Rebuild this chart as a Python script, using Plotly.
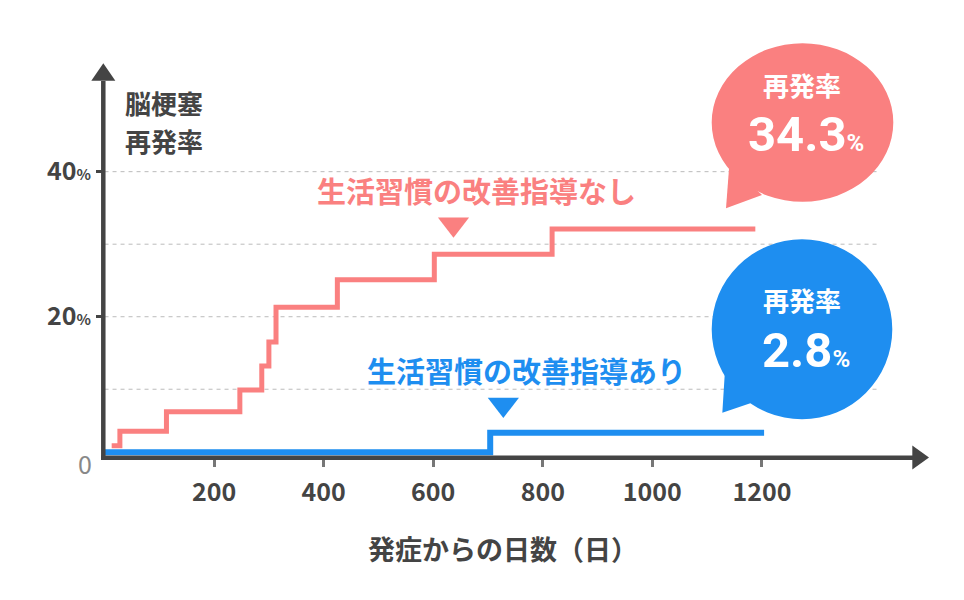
import plotly.graph_objects as go

# 生活習慣の改善指導なし（発症からの日数, 再発率 %）
days_without = [13, 28, 113, 247, 287, 300, 313, 425, 602, 817, 1188]
rate_without = [2.2, 4.2, 6.9, 9.9, 13.2, 16.5, 21.3, 25.1, 28.6, 32.1, 32.1]

# 生活習慣の改善指導あり
days_with = [0, 704, 1204]
rate_with = [1.3, 4.0, 4.0]

x_ticks = [200, 400, 600, 800, 1000, 1200]
y_ticks = [20, 40]
y_grid = [10, 20, 30, 40]

label_without = "生活習慣の改善指導なし"
label_with = "生活習慣の改善指導あり"
final_without = "34.3"
final_with = "2.8"

RED = "#FA8080"
BLUE = "#1E8EF0"
DARK = "#444444"
FONT = "Noto Sans CJK JP"

# the page body adds an 8px margin, so screen positions are shifted by OFF
OFF = 8
W, H = 964, 600
# plot area in screen pixels
L, R, T, B = 104, 912, 81, 458


def px(x):
    return (x - L) / (R - L)


def py(y):
    return (B - y) / (B - T)


fig = go.Figure()

fig.add_trace(go.Scatter(x=days_without, y=rate_without, mode="lines",
                         line=dict(color=RED, width=5, shape="hv"),
                         name=label_without, hoverinfo="skip"))
fig.add_trace(go.Scatter(x=days_with, y=rate_with, mode="lines",
                         line=dict(color=BLUE, width=6, shape="hv"),
                         name=label_with, hoverinfo="skip"))

# pointer triangles under the labels
fig.add_trace(go.Scatter(x=[637], y=[32.75], mode="markers",
                         marker=dict(symbol="triangle-down", size=27, color=RED),
                         hoverinfo="skip"))
fig.add_trace(go.Scatter(x=[728], y=[7.9], mode="markers",
                         marker=dict(symbol="triangle-down", size=27, color=BLUE),
                         hoverinfo="skip"))

shapes = []
for g in y_grid:
    shapes.append(dict(type="line", xref="x", yref="y", x0=0, x1=1410, y0=g, y1=g,
                       line=dict(color="#BBBBBB", width=1, dash="4px,4px"), layer="below"))

# axes with arrow heads
shapes += [
    dict(type="line", xref="paper", yref="paper", x0=px(103.3), x1=px(103.3),
         y0=py(460), y1=py(81), line=dict(color=DARK, width=4.5)),
    dict(type="line", xref="paper", yref="paper", x0=px(101), x1=px(913),
         y0=py(457.7), y1=py(457.7), line=dict(color=DARK, width=4.5)),
    dict(type="path", xref="paper", yref="paper", fillcolor=DARK, line=dict(width=0),
         path=f"M{px(91.3)},{py(80.7)} L{px(115.3)},{py(80.7)} L{px(103.3)},{py(63.3)} Z"),
    dict(type="path", xref="paper", yref="paper", fillcolor=DARK, line=dict(width=0),
         path=f"M{px(912.3)},{py(445.5)} L{px(912.3)},{py(469.5)} L{px(929)},{py(457.5)} Z"),
]

# speech bubbles
shapes += [
    dict(type="circle", xref="paper", yref="paper", fillcolor=RED, line=dict(width=0),
         x0=px(711.7), x1=px(893.3), y0=py(201.7), y1=py(43.3)),
    dict(type="path", xref="paper", yref="paper", fillcolor=RED, line=dict(width=0),
         path=f"M{px(729.3)},{py(165)} L{px(726)},{py(208.3)} L{px(762)},{py(195)} Z"),
    dict(type="circle", xref="paper", yref="paper", fillcolor=BLUE, line=dict(width=0),
         x0=px(711.7), x1=px(892.3), y0=py(419.3), y1=py(239.3)),
    dict(type="path", xref="paper", yref="paper", fillcolor=BLUE, line=dict(width=0),
         path=f"M{px(725)},{py(370)} L{px(722.3)},{py(412.7)} L{px(754)},{py(402)} Z"),
]


def note(text, x, y, size, color, xanchor="center", weight="bold", family=FONT):
    return dict(text=text, xref="paper", yref="paper", x=px(x), y=py(y),
                xanchor=xanchor, yanchor="middle", showarrow=False,
                font=dict(family=family, size=size, color=color, weight=weight))


def rate_text(value):
    return f"{value}<span style='font-size:24px'>%</span>"


annotations = [
    note("脳梗塞", 123, 102, 26, DARK, xanchor="left"),
    note("再発率", 123, 140.5, 26, DARK, xanchor="left"),
    note("0", 85, 463, 25, "#888888", weight="normal"),
    note("発症からの日数（日）", 503, 548, 27, DARK),
    note(label_without, 476, 190, 29, RED),
    note(label_with, 526, 369.5, 29, BLUE),
    note("再発率", 802, 85, 26, "white"),
    note(rate_text(final_without), 806, 134, 49, "white", family="Roboto"),
    note("再発率", 802, 299.5, 26, "white"),
    note(rate_text(final_with), 806, 350.5, 49, "white", family="Roboto"),
]

fig.update_layout(
    width=W, height=H,
    margin=dict(l=L - OFF, r=W - R + OFF, t=T - OFF, b=H - B + OFF),
    plot_bgcolor="white", paper_bgcolor="white",
    showlegend=False,
    shapes=shapes,
    annotations=annotations,
    xaxis=dict(range=[-1, 1474], tickvals=x_ticks, ticks="outside", ticklen=8,
               tickwidth=3, tickcolor="#777777", showgrid=False, zeroline=False,
               showline=False, ticklabelstandoff=4,
               tickfont=dict(family=FONT, size=25, color=DARK, weight="bold")),
    yaxis=dict(range=[0.52, 52.5], tickvals=y_ticks,
               ticktext=[f"{v}<span style='font-size:15px'>%</span>" for v in y_ticks],
               ticks="outside", ticklen=7, tickwidth=3, tickcolor=DARK,
               showgrid=False, zeroline=False, showline=False,
               tickfont=dict(family=FONT, size=25, color=DARK, weight="bold")),
)

fig.write_html("out.html")
